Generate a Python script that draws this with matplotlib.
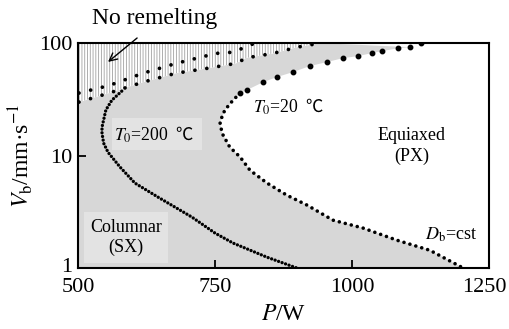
import matplotlib
matplotlib.use("Agg")
import matplotlib.pyplot as plt
from matplotlib.patches import Rectangle
from matplotlib.transforms import ScaledTranslation

plt.rcParams['font.family'] = ['Liberation Serif', 'Noto Sans CJK SC']
plt.rcParams['mathtext.fontset'] = 'stix'
plt.rcParams['hatch.color'] = '#a0a0a0'
plt.rcParams['hatch.linewidth'] = 0.6

# ---- data ---------------------------------------------------------------
# no-remelting boundary: lower and upper dotted rows (P in W, Vb in mm/s)
nr_low_P = [502, 557, 619, 679, 739, 788, 808, 856, 900, 942]
nr_low_V = [29.9, 36, 45, 54, 60, 66, 74, 81, 92, 100]
nr_up_P = [502, 557, 619, 679, 752, 783, 823]
nr_up_V = [36, 42, 54, 66, 81, 83, 100]

# T0 = 200 C boundary
t200_P = [580, 562, 551, 544, 544, 547, 555, 577, 604, 646, 708, 750, 783, 845, 900]
t200_V = [37.4, 31.1, 25.4, 17.9, 15.8, 12.9, 10.7, 7.9, 5.7, 4.28, 2.84, 2.05, 1.67, 1.25, 1.0]

# T0 = 20 C boundary: sparse upper dots, dense lower branch
t20_up_P = [1126, 1106, 1084, 1055, 1036, 1011, 984, 954, 923, 892, 863, 838, 808, 796]
t20_up_V = [100, 92, 90, 84.9, 81.5, 76.6, 73.6, 67.8, 62.5, 55.2, 49.9, 45, 38.2, 36]
t20_lo_P = [796, 783, 768, 759, 763, 777, 796, 814, 845, 881, 918, 965, 1020, 1082, 1142, 1203]
t20_lo_V = [36, 31.1, 25.4, 19.9, 15.8, 11.9, 9.7, 7.4, 5.7, 4.45, 3.63, 2.67, 2.27, 1.77, 1.44, 1.0]

xticks = [500, 750, 1000, 1250]
yticks = [1, 10, 100]

# ---- figure -------------------------------------------------------------
fig = plt.figure(figsize=(5.09, 3.29), dpi=100)
ax = fig.add_axes([0.153, 0.185, 0.808, 0.684])
ax.set_yscale('log')
ax.set_xlim(500, 1250)
ax.set_ylim(1, 100)

# grey region left of the T0=20 curve, below the no-remelting band
t20_P = t20_lo_P[::-1] + t20_up_P[1:][::-1]
t20_V = t20_lo_V[::-1] + t20_up_V[1:][::-1]
gx = [500] + t20_P + nr_low_P[::-1] + [500]
gy = [1] + t20_V + nr_low_V[::-1] + [nr_low_V[0]]
ax.fill(gx, gy, color='#d7d7d7', lw=0, zorder=1)

# hatched no-remelting band
hx = [500] + nr_low_P + [500]
hy = [nr_low_V[0]] + nr_low_V + [100]
ax.fill(hx, hy, facecolor='white', edgecolor='#a0a0a0', hatch='||||||', lw=0, zorder=1)

dots = dict(color='black', dash_capstyle='round', zorder=3)
ax.plot(nr_low_P, nr_low_V, lw=2.7, ls=(0, (0.01, 3.2)), **dots)
ax.plot(nr_up_P, nr_up_V, lw=2.7, ls=(0, (0.01, 3.2)), **dots)
ax.plot(t200_P, t200_V, lw=2.4, ls=(0, (0.01, 1.1)), **dots)
ax.plot(t20_lo_P, t20_lo_V, lw=2.6, ls=(0, (0.01, 1.7)), **dots)
ax.plot(t20_up_P, t20_up_V, ls='none', marker='o', ms=3.2, color='black', zorder=3)

# labels inside the plot
cjk = ['Noto Sans CJK SC']
ax.add_patch(Rectangle((562, 11.2), 164, 10.3, fc='#e3e3e3', ec='none', zorder=4))
ax.text(565, 15.2, r'$T_0$=200', fontsize=12.8, ha='left', va='center', zorder=5)
ax.text(694, 15.2, '℃', fontsize=12.5, family=cjk, ha='center', va='center', zorder=5)
ax.text(588, 1.87, 'Columnar\n(SX)', fontsize=13, ha='center', va='center',
        linespacing=1.25, bbox=dict(boxstyle='square,pad=0.35', fc='#e3e3e3', ec='none'), zorder=4)
ax.text(819, 27, r'$T_0$=20', fontsize=12.8, ha='left', va='center', zorder=5)
ax.text(931, 27, '℃', fontsize=12.5, family=cjk, ha='center', va='center', zorder=5)
ax.text(1109, 12.2, 'Equiaxed\n(PX)', fontsize=13, ha='center', va='center', linespacing=1.25, zorder=4)
ax.text(1181, 1.96, r'$D_\mathrm{b}$=cst', fontsize=13, ha='center', va='center', zorder=4)

ax.text(640, 167, 'No remelting', fontsize=17, ha='center', va='center', clip_on=False)
ax.annotate('', xy=(555, 68), xytext=(608, 111), annotation_clip=False,
            arrowprops=dict(arrowstyle='->', color='black', lw=1.0, mutation_scale=14,
                            shrinkA=0, shrinkB=0))

ax.set_xticks(xticks)
ax.set_xticklabels([str(t) for t in xticks])
ax.set_yticks(yticks)
ax.set_yticklabels([str(t) for t in yticks])
ax.minorticks_off()
ax.tick_params(direction='in', length=6, width=1.3, labelsize=16)
ax.tick_params(axis='x', pad=7)
ax.tick_params(axis='y', pad=4)
for s in ax.spines.values():
    s.set_linewidth(1.5)
last = ax.get_xticklabels()[-1]
last.set_transform(last.get_transform() + ScaledTranslation(-5 / 100, 0, fig.dpi_scale_trans))
first_y = ax.get_yticklabels()[0]
first_y.set_transform(first_y.get_transform() + ScaledTranslation(0, 3 / 100, fig.dpi_scale_trans))

ax.set_xlabel(r'$P$/W', fontsize=17, labelpad=5)
ax.set_ylabel(r'$V_\mathrm{b}$/mm·s$^{-1}$', fontsize=17, labelpad=3)

fig.savefig('out.png', dpi=100)
